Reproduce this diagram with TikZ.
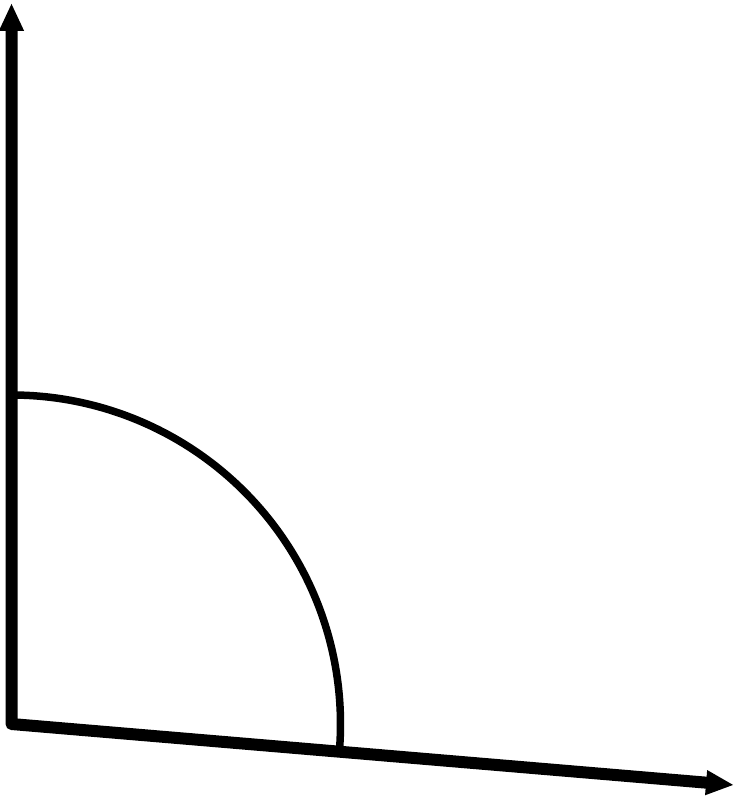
\documentclass[tikz,border=0pt]{standalone}
\usetikzlibrary{arrows.meta}
\begin{document}
\begin{tikzpicture}[x=1pt,y=-1pt,
  axisline/.style={line width=12pt, line join=round, arrows={Triangle[length=28pt,width=23pt]-Triangle[length=28pt,width=23pt]}},
  arcline/.style={line width=7.5pt}]
\useasboundingbox (0,0) rectangle (734,800);
\coordinate (top) at (11.5,3);
\coordinate (o) at (11.5,724);
\coordinate (right) at (734,785);
\draw[axisline] (top) -- (o) -- (right);
\coordinate (arcstart) at (11.5,395);
\draw[arcline] (arcstart) arc[start angle=-90, end angle=4.8, radius=329];
\end{tikzpicture}
\end{document}
